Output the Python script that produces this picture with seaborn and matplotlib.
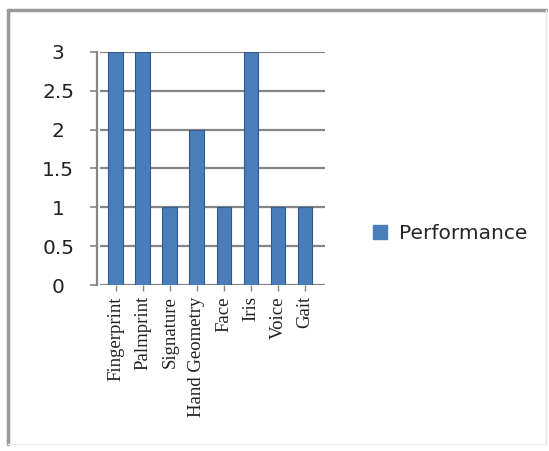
import matplotlib
matplotlib.use('Agg')
import matplotlib.pyplot as plt
import seaborn as sns
import pandas as pd
from matplotlib.patches import Rectangle
from matplotlib.lines import Line2D

categories = ['Fingerprint', 'Palmprint', 'Signature', 'Hand Geometry',
              'Face', 'Iris', 'Voice', 'Gait']
performance = [3, 3, 1, 2, 1, 3, 1, 1]
y_ticks = [0, 0.5, 1, 1.5, 2, 2.5, 3]
y_tick_labels = ['0', '0.5', '1', '1.5', '2', '2.5', '3']

df = pd.DataFrame({'Biometric': categories, 'Performance': performance})

sns.set_style('white')
fig = plt.figure(figsize=(5.49, 4.51), dpi=100)

# outer chart frame
fig.add_artist(Line2D([0.015, 0.015], [0.015, 0.977], color='#9a9a9a', lw=2.5))
fig.add_artist(Line2D([0.015, 0.995], [0.977, 0.977], color='#9a9a9a', lw=2.5))
fig.add_artist(Line2D([0.995, 0.995], [0.015, 0.977], color='#e6e6e6', lw=1))
fig.add_artist(Line2D([0.015, 0.995], [0.015, 0.015], color='#eeeeee', lw=1))

ax = fig.add_axes([0.182, 0.368, 0.41, 0.517])
sns.barplot(data=df, x='Biometric', y='Performance', color='#4a7ebb',
            width=0.55, edgecolor='#2f5a8c', linewidth=0.8, saturation=1,
            ax=ax, zorder=3)

ax.set_ylim(0, 3)
ax.set_xlim(-0.59, 7.74)
ax.yaxis.grid(True, color='#858585', lw=1.6)
ax.set_axisbelow(True)
for s in ['top', 'right', 'bottom']:
    ax.spines[s].set_visible(False)
ax.spines['left'].set_color('#858585')
ax.spines['left'].set_linewidth(1.6)
ax.spines['left'].set_position(('outward', 2))
ax.tick_params(axis='y', left=True, length=5, width=1.2, color='#858585',
               pad=23, labelsize=14.5, labelcolor='#222222')
ax.tick_params(axis='x', bottom=True, length=4, width=1, color='#858585',
               pad=4, labelsize=13.5, labelcolor='#222222')

ax.set_yticks(y_ticks)
ax.set_yticklabels(y_tick_labels, family='DejaVu Sans', fontsize=14.5,
                   ha='center')
ax.set_xticks(range(len(categories)))
ax.set_xticklabels(categories, rotation=90, family='Liberation Serif',
                   fontsize=13.5, va='top')
ax.set_xlabel('')
ax.set_ylabel('')

# legend
handle = Rectangle((0, 0), 1, 1, facecolor='#4a7ebb', edgecolor='#4a7ebb')
leg = fig.legend([handle], ['Performance'], loc='center left',
                 bbox_to_anchor=(0.647, 0.483), frameon=False,
                 handlelength=0.7, handleheight=0.7, handletextpad=0.55,
                 prop={'family': 'DejaVu Sans', 'size': 14.5})

plt.savefig('out.png', dpi=100)
